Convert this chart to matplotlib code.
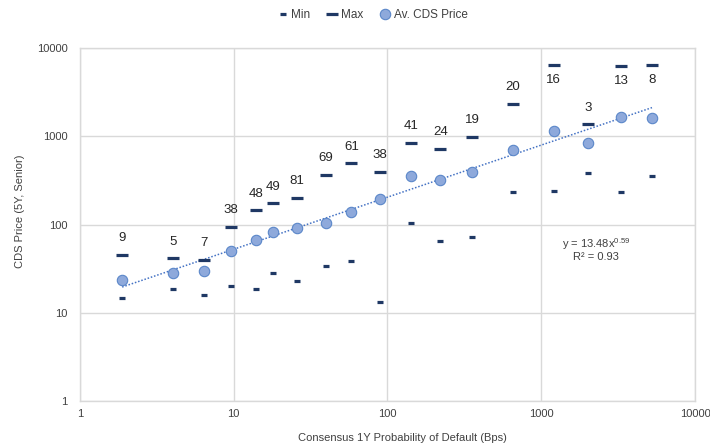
import matplotlib
matplotlib.use("Agg")
import matplotlib.pyplot as plt
import numpy as np

plt.rcParams['font.family'] = ['Liberation Sans', 'DejaVu Sans']
plt.rcParams['mathtext.fontset'] = 'custom'
plt.rcParams['mathtext.rm'] = 'Liberation Sans'
plt.rcParams['mathtext.it'] = 'Liberation Sans'

# data
pd_bps = [1.88, 4.03, 6.44, 9.6, 13.9, 18.0, 25.9, 39.8, 58.2, 89.8,
          142, 221, 356, 653, 1207, 2011, 3301, 5250]
avg_cds = [23.5, 28.3, 29.8, 50.6, 66.9, 81.8, 90.8, 105, 138, 194,
           353, 323, 390, 690, 1145, 839, 1651, 1592]
max_cds = [45, 41.5, 40, 94, 145, 173, 200, 365, 495, 398,
           849, 719, 993, 2317, 6400, 1368, 6240, 6450]
min_cds = [14.6, 18.6, 15.9, 20.1, 18.8, 28.5, 22.9, 34.2, 38.4, 13.4,
           103, 65.2, 72.9, 232, 237, 380, 232, 354]
counts = [9, 5, 7, 38, 48, 49, 81, 69, 61, 38, 41, 24, 19, 20, 16, 3, 13, 8]
label_below = [False] * 14 + [True, False, True, True]

# power trendline as printed on the chart
fit_a, fit_b = 13.48, 0.59

W, H = 710, 446
text_col = '#404040'
grid_col = '#D9D9D9'
navy = '#1F3864'

fig = plt.figure(figsize=(W / 100, H / 100), dpi=100)
ax = fig.add_axes([80 / W, 1 - 401 / H, 615 / W, 353 / H])

ax.set_xscale('log')
ax.set_yscale('log')
ax.set_xlim(1, 10000)
ax.set_ylim(1, 10000)

ax.plot(pd_bps, min_cds, linestyle='none', marker='_', markersize=5,
        markeredgewidth=2.3, color=navy, label='Min', zorder=3)
ax.plot(pd_bps, max_cds, linestyle='none', marker='_', markersize=9,
        markeredgewidth=2.3, color=navy, label='Max', zorder=3)
ax.plot(pd_bps, avg_cds, linestyle='none', marker='o', markersize=7.5,
        markerfacecolor='#8EA9DB', markeredgecolor='#5B87C9',
        markeredgewidth=0.8, label='Av. CDS Price', zorder=4)

xs = np.logspace(np.log10(min(pd_bps)), np.log10(max(pd_bps)), 50)
ax.plot(xs, fit_a * xs ** fit_b, linestyle=(0, (1, 1.2)), color='#4472C4',
        linewidth=1.1, zorder=2)

for x, y, n, below in zip(pd_bps, max_cds, counts, label_below):
    off = -11 if below else 12
    ax.annotate(str(n), (x, y), xytext=(0, off), textcoords='offset points',
                ha='center', va='center', fontsize=9.5, color='#262626')

fig.text(596 / W, 1 - 244 / H, 'y = 13.48x$^{0.59}$', fontsize=8,
         color=text_col, ha='center', va='center')
fig.text(596 / W, 1 - 257 / H, 'R² = 0.93', fontsize=8,
         color=text_col, ha='center', va='center')

ticks = [1, 10, 100, 1000, 10000]
ax.set_xticks(ticks)
ax.set_xticklabels([str(t) for t in ticks])
ax.set_yticks(ticks)
ax.set_yticklabels([str(t) for t in ticks])
ax.minorticks_off()
ax.tick_params(axis='x', length=0, labelsize=8, colors=text_col, pad=6)
ax.tick_params(axis='y', length=0, labelsize=8, colors=text_col, pad=9)
ax.grid(True, color=grid_col, linewidth=1)
for s in ax.spines.values():
    s.set_color(grid_col)
    s.set_linewidth(1)
ax.set_axisbelow(True)

fig.text(402 / W, 1 - 438 / H, 'Consensus 1Y Probability of Default (Bps)',
         fontsize=8, color=text_col, ha='center', va='center')
fig.text(20 / W, 1 - 211 / H, 'CDS Price (5Y, Senior)', fontsize=8,
         color=text_col, ha='center', va='center', rotation=90)

fig.legend(loc='center', bbox_to_anchor=(372 / W, 1 - 15 / H), ncol=3,
           frameon=False, fontsize=8.5, handletextpad=0.2, columnspacing=1.4,
           handlelength=1.0, labelcolor=text_col)

fig.savefig('out.png', dpi=100)
